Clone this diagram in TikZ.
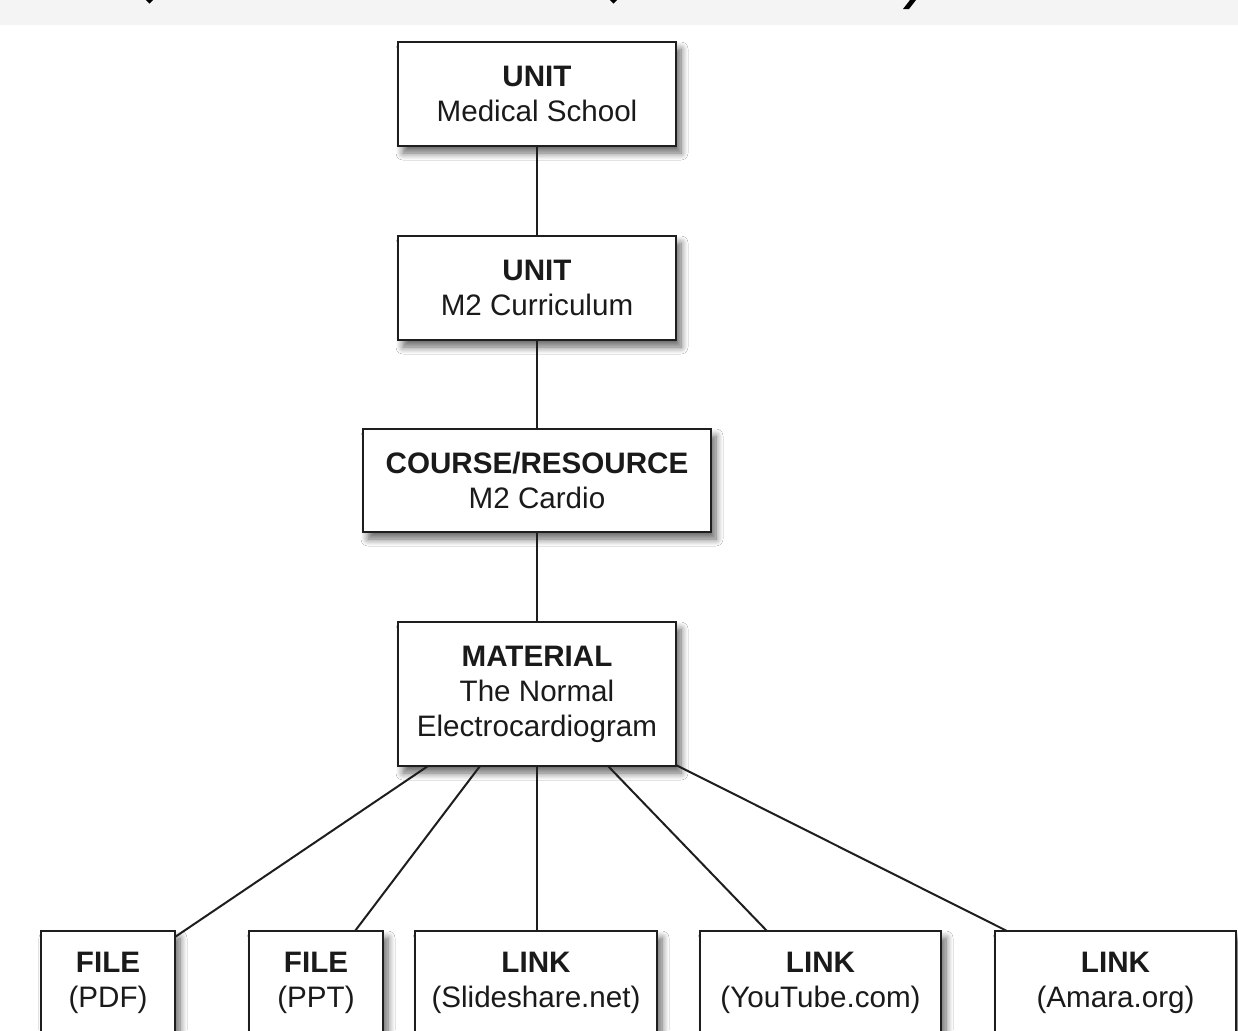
\documentclass[tikz,border=0pt]{standalone}
\usepackage{fontspec}
\setmainfont{Liberation Sans}
\usetikzlibrary{shadows.blur}
\definecolor{band}{HTML}{F4F4F4}
\definecolor{edge}{HTML}{1E1E1E}
\definecolor{txt}{HTML}{1A1A1A}
\tikzset{
  box/.style={draw=edge, line width=1.4pt, fill=white, anchor=north west,
    inner sep=0pt, outer sep=0pt, align=center, text=txt,
    font=\fontsize{14.8pt}{17.5pt}\selectfont,
    blur shadow={shadow blur steps=8, shadow xshift=2.5pt, shadow yshift=-3.5pt, shadow opacity=60, shadow blur radius=3.5pt}},
  conn/.style={draw=edge, line width=1pt},
  frag/.style={fill=black}
}
\begin{document}
\begin{tikzpicture}[x=0.5pt,y=-0.5pt]
\useasboundingbox (0,0) rectangle (1238,1030);
\clip (0,0) rectangle (1238,1030);
\fill[white] (0,0) rectangle (1238,1030);
\fill[band] (0,0) rectangle (1238,25);
\fill[frag] (146,0) -- (153,0) -- (149.5,3.5) -- cycle;
\fill[frag] (610,0) -- (617,0) -- (613.5,3.5) -- cycle;
\fill[frag] (910,0) -- (916,0) -- (909,9) -- (903,9) -- cycle;
% boxes
\node[box, minimum width=139pt, minimum height=52pt] (n1) at (398,42) {\textbf{UNIT}\\Medical School};
\node[box, minimum width=139pt, minimum height=52pt] (n2) at (398,236) {\textbf{UNIT}\\M2 Curriculum};
\node[box, minimum width=174pt, minimum height=51.5pt] (n3) at (363,429) {\textbf{COURSE/RESOURCE}\\M2 Cardio};
\node[box, minimum width=139pt, minimum height=72pt] (m) at (398,622) {\textbf{MATERIAL}\\The Normal\\Electrocardiogram};
\node[box, minimum width=67pt, minimum height=52pt] (f1) at (41,931) {\textbf{FILE}\\(PDF)};
\node[box, minimum width=67pt, minimum height=52pt] (f2) at (249,931) {\textbf{FILE}\\(PPT)};
\node[box, minimum width=121pt, minimum height=52pt] (l1) at (415,931) {\textbf{LINK}\\(Slideshare.net)};
\node[box, minimum width=120.5pt, minimum height=52pt] (l2) at (700,931) {\textbf{LINK}\\(YouTube.com)};
\node[box, minimum width=120.5pt, minimum height=52pt] (l3) at (995,931) {\textbf{LINK}\\(Amara.org)};
% connectors
\draw[conn] (n1.south) -- (n2.north);
\draw[conn] (n2.south) -- (n3.north);
\draw[conn] (n3.south) -- (m.north);
\draw[conn] ([xshift=15pt]m.south west) -- ([yshift=-3pt]f1.north east);
\draw[conn] ([xshift=41pt]m.south west) -- ([xshift=53pt]f2.north west);
\draw[conn] (m.south) -- (m.south |- l1.north);
\draw[conn] ([xshift=105pt]m.south west) -- ([xshift=33.5pt]l2.north west);
\draw[conn] ([yshift=0.5pt]m.south east) -- ([xshift=6pt]l3.north west);
\end{tikzpicture}
\end{document}
